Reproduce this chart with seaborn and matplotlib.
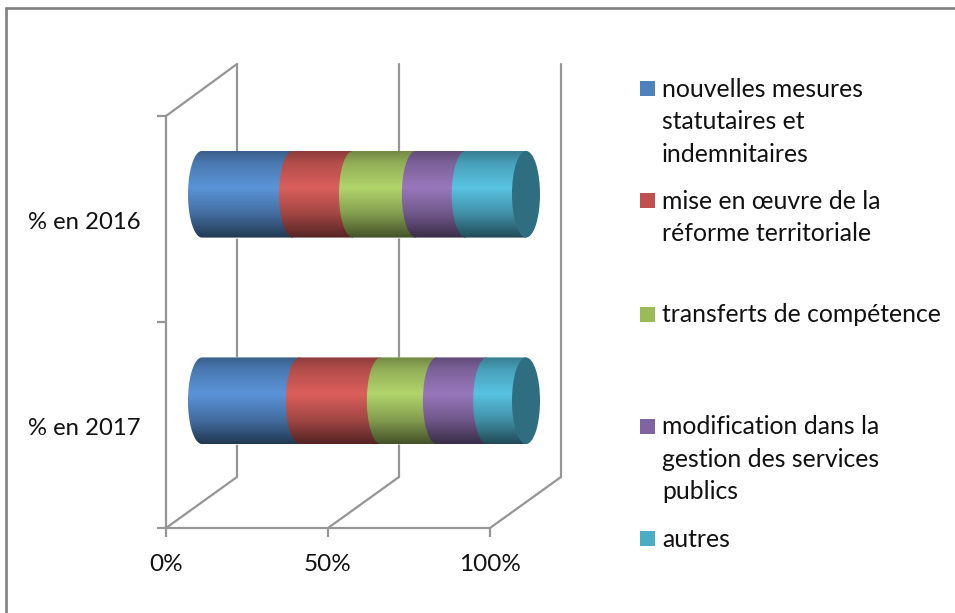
import numpy as np
import pandas as pd
import matplotlib
matplotlib.use("Agg")
import matplotlib.pyplot as plt
from matplotlib.lines import Line2D
from matplotlib.patches import ConnectionPatch, Ellipse, PathPatch, Rectangle
from matplotlib.path import Path
from matplotlib.transforms import ScaledTranslation
import seaborn as sns

# Share of each factor per year, in percent
categories = ["% en 2016", "% en 2017"]
nouvelles_mesures = [28.1, 30.2]
reforme_territoriale = [18.5, 25.0]
transferts = [19.4, 17.3]
modification_gestion = [15.4, 15.5]
autres = [18.6, 12.0]

series_labels = [
    "nouvelles mesures\nstatutaires et\nindemnitaires",
    "mise en œuvre de la\nréforme territoriale",
    "transferts de compétence",
    "modification dans la\ngestion des services\npublics",
    "autres",
]
x_ticks = [0, 50, 100]
x_tick_labels = ["0%", "50%", "100%"]

# Flat colours for the legend, brighter ones for the lit side of the cylinders
legend_colors = ["#4F81BD", "#C0504D", "#9BBB59", "#8064A2", "#4BACC6"]
lit_colors = ["#5B94D8", "#DB5F5C", "#B2D56B", "#9877BB", "#58C3E2"]
cap_color = "#2E6E80"
wall_color = "#959595"
wall_width = 1.6
text_color = "#111111"

W, H = 955, 613
sns.set_theme(style="white")
plt.rcParams["font.family"] = ["Lato", "DejaVu Sans"]
fig = plt.figure(figsize=(W / 100, H / 100), dpi=100, facecolor="white")


def px_axes(left, top, right, bottom):
    """Axes placed from pixel edges measured from the top-left corner."""
    return fig.add_axes([left / W, 1 - bottom / H, (right - left) / W, (bottom - top) / H])


# Outer frame of the chart area (open on the right and bottom)
for xs, ys in [((6, 6), (8, 613)), ((6, 955), (8, 8))]:
    fig.add_artist(Line2D([x / W for x in xs], [1 - y / H for y in ys],
                          color="#808080", lw=1.9, transform=fig.transFigure))

# Back wall of the 3D box: gridlines only
back = px_axes(237, 64, 561, 477)
back.set_xlim(0, 100)
back.set_ylim(1.5, -0.5)
back.patch.set_visible(False)
back.set_xticks(x_ticks)
back.set_xticklabels([])
back.set_yticks([])
back.grid(True, axis="x", color=wall_color, lw=wall_width)
for line in back.get_xgridlines():
    line.set_clip_on(False)
for spine in back.spines.values():
    spine.set_visible(False)

# Front plane: axis lines, ticks and labels
front = px_axes(166, 116, 490, 528)
front.set_xlim(0, 100)
front.set_ylim(1.5, -0.5)
front.patch.set_visible(False)
sns.despine(ax=front)
for name in ("left", "bottom"):
    front.spines[name].set_color(wall_color)
    front.spines[name].set_linewidth(wall_width)
front.set_xticks(x_ticks)
front.set_xticklabels(x_tick_labels, fontsize=17.5, color=text_color)
front.tick_params(axis="x", which="major", bottom=True, length=6.5, width=wall_width,
                  color=wall_color, pad=12)
front.set_yticks(range(len(categories)))
front.set_yticklabels(categories, fontsize=17.2, color=text_color)
front.tick_params(axis="y", which="major", left=False, pad=12.5)
nudge = ScaledTranslation(0, -1.5 / 100, fig.dpi_scale_trans)
for tick_label in front.get_yticklabels():
    tick_label.set_transform(tick_label.get_transform() + nudge)
front.set_yticks([-0.5, 0.5, 1.5], minor=True)
front.tick_params(axis="y", which="minor", left=True, length=6.5, width=wall_width, color=wall_color)

# Receding floor and side edges joining the two planes
edges = [(v, 1.5) for v in x_ticks] + [(0, -0.5)]
for xv, yv in edges:
    fig.add_artist(ConnectionPatch(xyA=(xv, yv), xyB=(xv, yv),
                                   coordsA=front.transData, coordsB=back.transData,
                                   color=wall_color, lw=wall_width))

# Cylinders sit half-way between the planes; the axes run past 0-100 to hold the rounded ends
px_per_unit = 3.24
x_min, x_max = -8, 108
cyl = px_axes(202 + x_min * px_per_unit, 91, 202 + x_max * px_per_unit, 504)
values = np.array([nouvelles_mesures, reforme_territoriale, transferts,
                   modification_gestion, autres], dtype=float)
cumulative = values.cumsum(axis=0)
bar_width = 85 / 206.5

# Stack by painting the longest cumulative bar first
for idx in range(len(values) - 1, -1, -1):
    frame = pd.DataFrame({"category": categories, "cumulative": cumulative[idx]})
    sns.barplot(data=frame, y="category", x="cumulative", orient="h", color=lit_colors[idx],
                saturation=1, width=bar_width, ax=cyl, zorder=1)
cyl.axis("off")
cyl.patch.set_visible(False)

containers = list(cyl.containers)[::-1]  # back to series order
rx = 14 / px_per_unit  # ellipse half-width of the cylinder ends, in data units
bleed = 0.004  # slight overshoot so the shading hides the flat bar underneath
shade_t = np.array([0.0, 0.14, 0.42, 0.72, 1.0])
shade_f = np.array([0.64, 0.82, 1.0, 0.74, 0.38])
shade = np.interp(np.linspace(0, 1, 128), shade_t, shade_f)

for s_idx, container in enumerate(containers):
    rgb = np.array(matplotlib.colors.to_rgb(lit_colors[s_idx]))
    grad = np.clip(shade[:, None, None] * rgb[None, None, :], 0, 1)
    for c_idx, patch in enumerate(container.patches):
        y0, h = patch.get_y(), patch.get_height()
        end = patch.get_x() + patch.get_width()
        start = 0 if s_idx == 0 else containers[s_idx - 1].patches[c_idx].get_width()
        yc = y0 + h / 2
        half = h / 2 + bleed
        # Band outline: bulging left edge, straight top and bottom
        theta = np.linspace(np.pi / 2, 3 * np.pi / 2, 40)
        arc = np.column_stack([start + rx * np.cos(theta), yc - half * np.sin(theta)])
        verts = np.vstack([[[end, yc - half]], arc, [[end, yc + half]], [[end, yc - half]]])
        clip = PathPatch(Path(verts), transform=cyl.transData, fc="none", ec="none")
        cyl.add_patch(clip)
        img = cyl.imshow(grad, extent=(start - rx - 1, end + 0.01, yc + half, yc - half),
                         aspect="auto", interpolation="bilinear", zorder=2 + s_idx)
        img.set_clip_path(clip)

# End caps at the 100 % mark
for c_idx in range(len(categories)):
    cyl.add_patch(Ellipse((100, c_idx), 2 * rx, bar_width + 2 * bleed, fc=cap_color,
                          ec="none", zorder=10))
cyl.set_xlim(x_min, x_max)
cyl.set_ylim(1.5, -0.5)

# Legend: swatches at an even pitch, text running over several lines
key = fig.add_axes([0, 0, 1, 1])
key.set_xlim(0, W)
key.set_ylim(H, 0)
key.axis("off")
key.patch.set_visible(False)
key_y = [88.5, 200.5, 314, 426, 538.5]
line_pitch = 32.5
for label, color, y in zip(series_labels, legend_colors, key_y):
    key.add_patch(Rectangle((640, y - 7.5), 15, 15, fc=color, ec="none"))
    for n, line in enumerate(label.split("\n")):
        key.text(662, y + n * line_pitch + 0.8, line, fontsize=17.8, color=text_color,
                 ha="left", va="center")

fig.savefig("out.png", dpi=100, facecolor="white")
